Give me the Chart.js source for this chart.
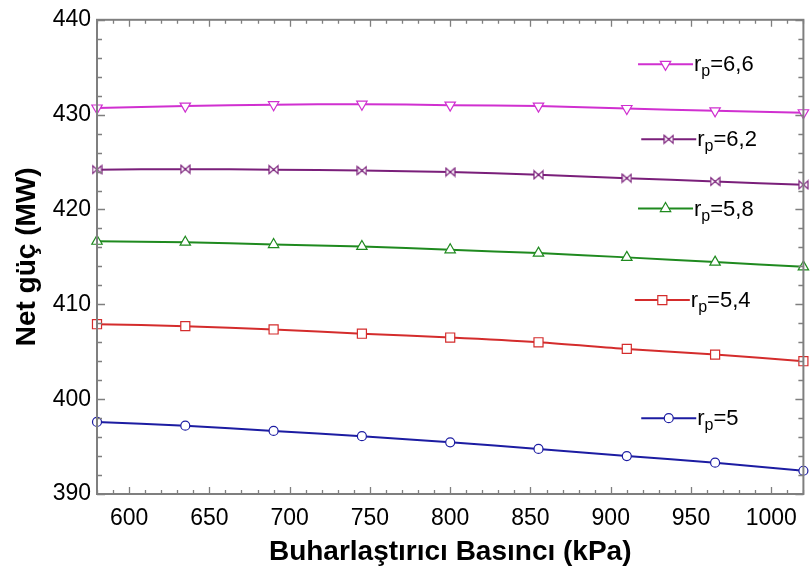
<!DOCTYPE html>
<html lang="tr">
<head>
<meta charset="UTF-8">
<title>Net güç - Buharlaştırıcı Basıncı</title>
<script src="https://cdn.jsdelivr.net/npm/chart.js"></script>
<style>
    html, body { margin: 0; padding: 0; background: #ffffff; }
    #wrap { width: 811px; height: 570px; }
</style>
</head>
<body>
<div id="wrap"><canvas id="netChart" width="811" height="570"></canvas></div>
<script>
    // data
    const pressure = [580, 635, 690, 745, 800, 855, 910, 965, 1020];
    const rp66 = [430.7, 430.9, 431.05, 431.1, 431.0, 430.9, 430.65, 430.4, 430.2];
    const rp62 = [424.2, 424.25, 424.2, 424.1, 423.95, 423.65, 423.3, 422.95, 422.6];
    const rp58 = [416.65, 416.55, 416.3, 416.1, 415.75, 415.4, 414.95, 414.45, 413.95];
    const rp54 = [407.9, 407.7, 407.35, 406.9, 406.5, 406.0, 405.3, 404.7, 404.0];
    const rp5 = [397.6, 397.2, 396.65, 396.1, 395.45, 394.75, 394.0, 393.3, 392.45];
    const seriesNames = ['6,6', '6,2', '5,8', '5,4', '5'];

    const xTicks = [600, 650, 700, 750, 800, 850, 900, 950, 1000];
    const yTicks = [390, 400, 410, 420, 430, 440];
    const xMinorStep = 10;
    const yMinorStep = 2;

    const FONT = "'Liberation Sans', Arial, sans-serif";
    const AXIS_GREY = '#7f7f7f';

    // bow-tie marker for r_p=6,2
    function bowtie(color) {
        const c = document.createElement('canvas');
        c.width = 11; c.height = 11;
        const g = c.getContext('2d');
        g.strokeStyle = color;
        g.fillStyle = '#fff';
        g.lineWidth = 1.2;
        g.beginPath();
        g.moveTo(1, 1.5); g.lineTo(10, 9.5); g.lineTo(10, 1.5); g.lineTo(1, 9.5); g.closePath();
        g.fill(); g.stroke();
        return c;
    }

    const colors = ['#d030d0', '#7a1f7a', '#1f8a1f', '#d42c2c', '#1c1ca2'];
    const styles = [
        { pointStyle: 'triangle', rotation: 180, radius: 6 },
        { pointStyle: bowtie('#7a1f7a'), rotation: 0, radius: 5 },
        { pointStyle: 'triangle', rotation: 0, radius: 6 },
        { pointStyle: 'rect', rotation: 0, radius: 6.4 },
        { pointStyle: 'circle', rotation: 0, radius: 4.5 }
    ];
    const values = [rp66, rp62, rp58, rp54, rp5];

    const datasets = values.map((vals, i) => ({
        label: 'rp=' + seriesNames[i],
        data: pressure.map((p, j) => ({ x: p, y: vals[j] })),
        borderColor: colors[i],
        borderWidth: 2,
        backgroundColor: '#ffffff',
        pointBackgroundColor: '#ffffff',
        pointBorderColor: colors[i],
        pointBorderWidth: 1.2,
        pointStyle: styles[i].pointStyle,
        pointRotation: styles[i].rotation,
        pointRadius: styles[i].radius,
        tension: 0.3,
        clip: false
    }));

    // inward ticks + frame
    const framePlugin = {
        id: 'frame',
        afterDatasetsDraw(chart) {
            const { ctx, chartArea: a, scales: { x, y } } = chart;
            ctx.save();
            ctx.strokeStyle = AXIS_GREY;
            ctx.lineWidth = 1.3;
            ctx.beginPath();
            for (let v = x.min; v <= x.max + 0.001; v += xMinorStep) {
                const px = Math.round(x.getPixelForValue(v)) + 0.5;
                const len = xTicks.includes(v) ? 7 : 4;
                ctx.moveTo(px, a.bottom); ctx.lineTo(px, a.bottom - len);
                ctx.moveTo(px, a.top); ctx.lineTo(px, a.top + len);
            }
            for (let v = y.min; v <= y.max + 0.001; v += yMinorStep) {
                const py = Math.round(y.getPixelForValue(v)) + 0.5;
                const len = yTicks.includes(v) ? 8 : 5;
                ctx.moveTo(a.left, py); ctx.lineTo(a.left + len, py);
                ctx.moveTo(a.right, py); ctx.lineTo(a.right - len, py);
            }
            ctx.stroke();
            ctx.lineWidth = 2;
            ctx.strokeRect(a.left, a.top, a.right - a.left, a.bottom - a.top);
            ctx.restore();
        }
    };

    // inline legend, anchored in data coordinates
    const legendAnchors = [
        { x: 917, y: 435.3 },
        { x: 919, y: 427.4 },
        { x: 917, y: 420.1 },
        { x: 915, y: 410.45 },
        { x: 919, y: 398.0 }
    ];
    const inlineLegend = {
        id: 'inlineLegend',
        afterDatasetsDraw(chart) {
            const { ctx, scales: { x, y } } = chart;
            ctx.save();
            legendAnchors.forEach((pos, i) => {
                const x0 = x.getPixelForValue(pos.x);
                const yy = y.getPixelForValue(pos.y);
                const x1 = x0 + 55;
                ctx.strokeStyle = colors[i];
                ctx.lineWidth = 2;
                ctx.beginPath(); ctx.moveTo(x0, yy); ctx.lineTo(x1, yy); ctx.stroke();
                ctx.fillStyle = '#fff';
                ctx.lineWidth = 1.2;
                Chart.helpers.drawPoint(ctx, {
                    pointStyle: styles[i].pointStyle,
                    rotation: styles[i].rotation,
                    radius: styles[i].radius,
                    borderWidth: 1.2
                }, (x0 + x1) / 2, yy);
                ctx.fillStyle = '#000';
                ctx.textBaseline = 'alphabetic';
                ctx.textAlign = 'left';
                let tx = x1 + 1;
                const base = yy + 7;
                ctx.font = '22px ' + FONT;
                ctx.fillText('r', tx, base);
                tx += ctx.measureText('r').width;
                ctx.font = '16px ' + FONT;
                ctx.fillText('p', tx, base + 5);
                tx += ctx.measureText('p').width;
                ctx.font = '22px ' + FONT;
                ctx.fillText('=' + seriesNames[i], tx, base);
            });
            ctx.restore();
        }
    };

    new Chart(document.getElementById('netChart'), {
        type: 'line',
        data: { datasets },
        options: {
            responsive: false,
            animation: false,
            layout: { padding: { top: 19, right: 1, left: 0, bottom: 0 } },
            plugins: { legend: { display: false }, tooltip: { enabled: false } },
            scales: {
                x: {
                    type: 'linear',
                    min: 580,
                    max: 1020,
                    afterBuildTicks: s => { s.ticks = xTicks.map(v => ({ value: v })); },
                    afterFit: s => { s.height = 76; },
                    grid: { display: false, drawTicks: false },
                    border: { display: false },
                    ticks: {
                        color: '#000', padding: 11, maxRotation: 0,
                        font: { family: FONT, size: 23 },
                        callback: v => String(v)
                    },
                    title: {
                        display: true,
                        text: 'Buharlaştırıcı Basıncı (kPa)',
                        color: '#000',
                        font: { family: FONT, size: 28, weight: 'bold' },
                        padding: { top: 0, bottom: 1 }
                    }
                },
                y: {
                    min: 390,
                    max: 440,
                    afterBuildTicks: s => { s.ticks = yTicks.map(v => ({ value: v })); },
                    afterFit: s => { s.width = 97; },
                    grid: { display: false, drawTicks: false },
                    border: { display: false },
                    ticks: {
                        color: '#000', padding: 6,
                        font: { family: FONT, size: 23 },
                        callback: v => String(v)
                    },
                    title: {
                        display: true,
                        text: 'Net güç (MW)',
                        color: '#000',
                        font: { family: FONT, size: 28, weight: 'bold' },
                        padding: { top: 10, bottom: 0 }
                    }
                }
            }
        },
        plugins: [framePlugin, inlineLegend]
    });
</script>
</body>
</html>
